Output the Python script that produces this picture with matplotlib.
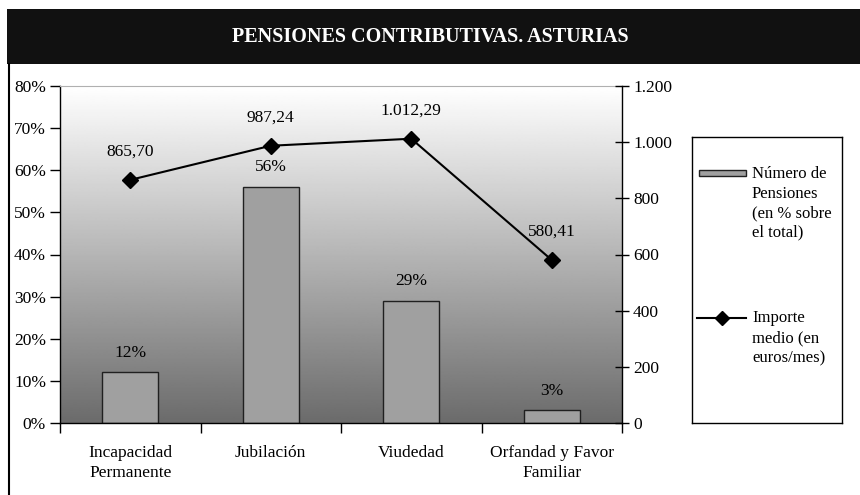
import numpy as np
import matplotlib
matplotlib.use("Agg")
import matplotlib.pyplot as plt
from matplotlib.patches import Rectangle
from matplotlib.lines import Line2D
from matplotlib.ticker import FuncFormatter

plt.rcParams['font.family'] = ['Liberation Serif', 'DejaVu Serif']

# datos
categorias = ["Incapacidad\nPermanente", "Jubilación", "Viudedad", "Orfandad y Favor\nFamiliar"]
pct_pensiones = [12, 56, 29, 3]
etiquetas_pct = ["12%", "56%", "29%", "3%"]
importe_medio = [865.70, 987.24, 1012.29, 580.41]
etiquetas_importe = ["865,70", "987,24", "1.012,29", "580,41"]
leyenda = ["Número de\nPensiones\n(en % sobre\nel total)", "Importe\nmedio (en\neuros/mes)"]

def miles(v, pos):
    return "{:,.0f}".format(v).replace(",", ".")

FS = 12.5
W, H = 860, 495
fig = plt.figure(figsize=(8.6, 4.95), dpi=100)
fig.patch.set_facecolor("white")

# barra de titulo
fig.patches.append(Rectangle((7/W, 1-64/H), 1-7/W, 55/H, transform=fig.transFigure,
                             facecolor="#111111", edgecolor="none", zorder=0))
fig.text(0.5, 1-37/H, "PENSIONES CONTRIBUTIVAS. ASTURIAS", color="white",
         fontsize=14.5, fontweight="bold", ha="center", va="center")
fig.lines.append(Line2D([8.5/W, 8.5/W], [0, 1-64/H], transform=fig.transFigure,
                        color="black", lw=1.5))

ax = fig.add_axes([60/W, 1-423/H, 562/W, 337/H])
x = np.arange(len(categorias))

# fondo degradado
grad = np.linspace(0.42, 1.0, 256).reshape(-1, 1)
ax.imshow(grad, extent=[-0.5, 3.5, 0, 80], aspect="auto", cmap="gray", vmin=0, vmax=1,
          origin="lower", zorder=0, interpolation="bilinear")

ax.bar(x, pct_pensiones, width=0.4, color="#a0a0a0", edgecolor="#202020",
       linewidth=1, zorder=2)
for xi, v, t in zip(x, pct_pensiones, etiquetas_pct):
    ax.text(xi, v + 4.7, t, ha="center", va="center", fontsize=FS)

ax.set_xlim(-0.5, 3.5)
ax.set_ylim(0, 80)
ax.set_yticks(np.arange(0, 81, 10))
ax.set_yticklabels([f"{v}%" for v in range(0, 81, 10)], fontsize=FS)
ax.tick_params(axis="y", direction="out", length=7, width=1, pad=3)
ax.set_xticks([-0.5, 0.5, 1.5, 2.5, 3.5])
ax.set_xticklabels([])
ax.tick_params(axis="x", which="major", direction="out", length=7, width=1)
ax.set_xticks(x, minor=True)
ax.set_xticklabels(categorias, minor=True, fontsize=FS, linespacing=1.3)
ax.tick_params(axis="x", which="minor", length=0, pad=16)
ax.spines["top"].set_color("#b0b0b0")
ax.spines["right"].set_visible(False)
for s in ["left", "bottom"]:
    ax.spines[s].set_linewidth(1)

ax2 = ax.twinx()
ax2.plot(x, importe_medio, color="black", lw=1.5, marker="D", markersize=8, zorder=3)
for xi, v, t in zip(x, importe_medio, etiquetas_importe):
    ax2.text(xi, v + 100, t, ha="center", va="center", fontsize=FS)
ax2.set_ylim(0, 1200)
ax2.set_yticks(np.arange(0, 1201, 200))
ax2.yaxis.set_major_formatter(FuncFormatter(miles))
ax2.tick_params(axis="y", direction="inout", length=10, width=1, labelsize=FS, pad=3)
ax2.spines["top"].set_visible(False)
ax2.spines["left"].set_visible(False)
ax2.spines["bottom"].set_visible(False)
ax2.spines["right"].set_linewidth(1)

# leyenda (caja dibujada a mano, coordenadas en pixeles de la figura)
lx0, ly0, lw_, lh = 692, 137, 150, 286
lax = fig.add_axes([lx0/W, 1-(ly0+lh)/H, lw_/W, lh/H])
lax.set_xlim(lx0, lx0 + lw_)
lax.set_ylim(ly0 + lh, ly0)
lax.set_xticks([])
lax.set_yticks([])
for s in lax.spines.values():
    s.set_linewidth(1)
lax.add_patch(Rectangle((699, 170), 47, 6, facecolor="#a0a0a0", edgecolor="#202020", lw=1))
lax.plot([697, 746], [318, 318], color="black", lw=1.5)
lax.plot([721.5], [318], color="black", marker="D", markersize=7)
lax.text(752, 166, leyenda[0], ha="left", va="top", fontsize=12, linespacing=1.3)
lax.text(752, 310, leyenda[1], ha="left", va="top", fontsize=12, linespacing=1.35)

fig.savefig("out.png", dpi=100)
